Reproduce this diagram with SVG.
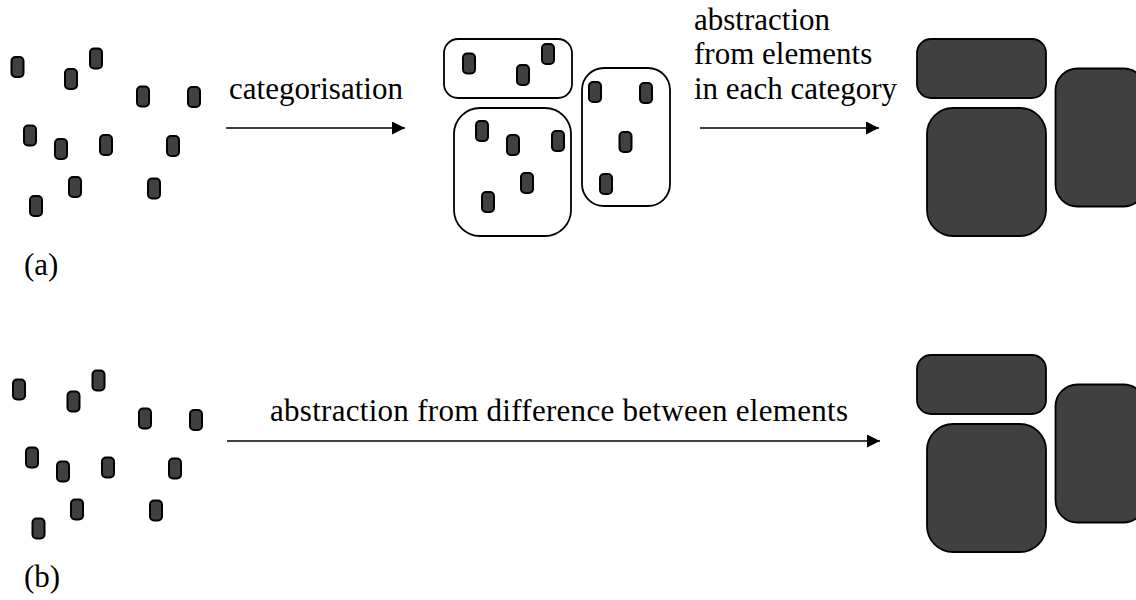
<svg xmlns="http://www.w3.org/2000/svg" width="1136" height="600" viewBox="0 0 1136 600">
  <style>
    .el { fill: #404040; stroke: #000; stroke-width: 2; }
    .cat { fill: none; stroke: #000; stroke-width: 1.8; }
    .blk { fill: #404040; stroke: #000; stroke-width: 1.8; }
    .lbl { font-size: 31px; fill: #000; }
    .arrow { stroke: #000; stroke-width: 1.6; fill: none; marker-end: url(#head); }
  </style>
  <defs>
    <marker id="head" markerUnits="userSpaceOnUse" markerWidth="13" markerHeight="13" refX="13" refY="6.5" orient="auto">
      <path d="M0,0 L13,6.5 L0,13 z" fill="#000"/>
    </marker>
  </defs>
  <rect width="1136" height="600" fill="#fff"/>

  <!-- (a) unsorted elements -->
  <g id="elements-a">
    <rect class="el" x="11.5" y="57" width="12" height="20" rx="4"/>
    <rect class="el" x="65" y="69" width="12" height="20" rx="4"/>
    <rect class="el" x="90" y="48.5" width="12" height="20" rx="4"/>
    <rect class="el" x="137" y="86.5" width="12" height="20" rx="4"/>
    <rect class="el" x="188" y="87" width="12" height="20" rx="4"/>
    <rect class="el" x="24" y="125.5" width="12" height="20" rx="4"/>
    <rect class="el" x="55" y="139" width="12" height="20" rx="4"/>
    <rect class="el" x="100" y="135" width="12" height="20" rx="4"/>
    <rect class="el" x="167" y="136" width="12" height="20" rx="4"/>
    <rect class="el" x="69" y="177" width="12" height="20" rx="4"/>
    <rect class="el" x="30" y="196" width="12" height="20" rx="4"/>
    <rect class="el" x="148" y="178.5" width="12" height="20" rx="4"/>
  </g>

  <!-- (a) categorised elements -->
  <g id="categories-a">
    <rect class="cat" x="444" y="39" width="128" height="59" rx="14"/>
    <rect class="cat" x="454" y="108" width="117" height="128" rx="26"/>
    <rect class="cat" x="582" y="68" width="88" height="138" rx="22"/>
    <rect class="el" x="463" y="53.5" width="12" height="20" rx="4"/>
    <rect class="el" x="517" y="65" width="12" height="20" rx="4"/>
    <rect class="el" x="542" y="44" width="12" height="20" rx="4"/>
    <rect class="el" x="589" y="82" width="12" height="20" rx="4"/>
    <rect class="el" x="640" y="83" width="12" height="20" rx="4"/>
    <rect class="el" x="619.5" y="132" width="12" height="20" rx="4"/>
    <rect class="el" x="600" y="174" width="12" height="20" rx="4"/>
    <rect class="el" x="476" y="121" width="12" height="20" rx="4"/>
    <rect class="el" x="507" y="135" width="12" height="20" rx="4"/>
    <rect class="el" x="552" y="131" width="12" height="20" rx="4"/>
    <rect class="el" x="521" y="173" width="12" height="20" rx="4"/>
    <rect class="el" x="482" y="192" width="12" height="20" rx="4"/>
  </g>

  <!-- (a) abstracted categories -->
  <g id="abstract-a">
    <rect class="blk" x="917" y="39" width="129" height="59" rx="14"/>
    <rect class="blk" x="927" y="108" width="119" height="128" rx="26"/>
    <rect class="blk" x="1055.5" y="68.5" width="90" height="138" rx="22"/>
  </g>

  <!-- (b) unsorted elements -->
  <g id="elements-b">
    <rect class="el" x="13" y="379.5" width="12" height="20" rx="4"/>
    <rect class="el" x="67.5" y="391.5" width="12" height="20" rx="4"/>
    <rect class="el" x="92.5" y="370.5" width="12" height="20" rx="4"/>
    <rect class="el" x="139" y="408.5" width="12" height="20" rx="4"/>
    <rect class="el" x="190" y="410" width="12" height="20" rx="4"/>
    <rect class="el" x="26" y="447.5" width="12" height="20" rx="4"/>
    <rect class="el" x="57" y="461.5" width="12" height="20" rx="4"/>
    <rect class="el" x="102" y="457.5" width="12" height="20" rx="4"/>
    <rect class="el" x="169" y="458.5" width="12" height="20" rx="4"/>
    <rect class="el" x="71" y="499.5" width="12" height="20" rx="4"/>
    <rect class="el" x="32.5" y="518.5" width="12" height="20" rx="4"/>
    <rect class="el" x="150" y="500.5" width="12" height="20" rx="4"/>
  </g>

  <!-- (b) abstracted result -->
  <g id="abstract-b">
    <rect class="blk" x="917" y="355" width="129" height="59" rx="14"/>
    <rect class="blk" x="927" y="424" width="119" height="128" rx="26"/>
    <rect class="blk" x="1055.5" y="384.5" width="90" height="138" rx="22"/>
  </g>

  <!-- connectors -->
  <g id="connectors">
    <line class="arrow" x1="226" y1="128" x2="405" y2="128"/>
    <line class="arrow" x1="700" y1="128" x2="879" y2="128"/>
    <line class="arrow" x1="227" y1="441" x2="880" y2="441"/>
  </g>

  <!-- labels -->
  <g id="labels" font-family="'Liberation Serif', 'Times New Roman', Times, 'DejaVu Serif', 'Noto Serif', serif">
    <text class="lbl" x="229" y="99">categorisation</text>
    <text class="lbl" x="694" y="29.5">abstraction</text>
    <text class="lbl" x="694" y="64">from elements</text>
    <text class="lbl" x="694" y="98.5">in each category</text>
    <text class="lbl" x="270" y="421" textLength="578" lengthAdjust="spacing">abstraction from difference between elements</text>
    <text class="lbl" x="24" y="275">(a)</text>
    <text class="lbl" x="24" y="587">(b)</text>
  </g>
</svg>
